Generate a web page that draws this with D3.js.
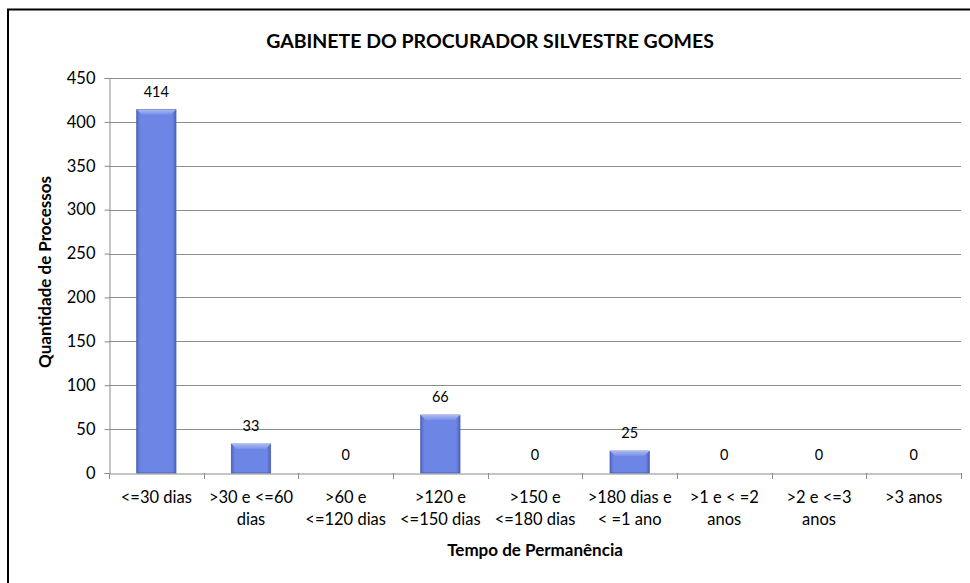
<!DOCTYPE html>
<html>
<head>
<meta charset="utf-8">
<script src="https://cdn.jsdelivr.net/npm/d3@7"></script>
<style>
  html, body { margin: 0; padding: 0; background: #fff; }
  svg { display: block; }
  text { font-family: Lato, "Open Sans", "Noto Sans", sans-serif; fill: #000; }
</style>
</head>
<body>
<svg id="chart" width="970" height="583"></svg>
<script>
const categories = [
  ["<=30 dias"],
  [">30 e <=60", "dias"],
  [">60 e", "<=120 dias"],
  [">120 e", "<=150 dias"],
  [">150 e", "<=180 dias"],
  [">180 dias e", "< =1 ano"],
  [">1 e < =2", "anos"],
  [">2 e <=3", "anos"],
  [">3 anos"]
];
const values = [414, 33, 0, 66, 0, 25, 0, 0, 0];
const yTicks = [0, 50, 100, 150, 200, 250, 300, 350, 400, 450];
const title = "GABINETE DO PROCURADOR SILVESTRE GOMES";
const xTitle = "Tempo de Permanência";
const yTitle = "Quantidade de Processos";

const svg = d3.select("#chart");
const m = { left: 109, right: 961, top: 78, bottom: 473 };

// outer border (top and left visible; right/bottom cut off)
svg.append("path").attr("d", "M8,600L8,9.5L980,9.5")
  .attr("fill", "none").attr("stroke", "#000").attr("stroke-width", 2);

const x = d3.scaleBand().domain(d3.range(categories.length))
  .range([m.left, m.right]).paddingInner(0.585).paddingOuter(0.2925);
const xb = d3.scaleBand().domain(d3.range(categories.length)).range([m.left, m.right]);
const y = d3.scaleLinear().domain([0, 450]).range([m.bottom, m.top]);

const defs = svg.append("defs");
const g1 = defs.append("linearGradient").attr("id", "barGrad").attr("x1", 0).attr("x2", 1).attr("y1", 0).attr("y2", 0);
g1.append("stop").attr("offset", "0%").attr("stop-color", "#5568c4");
g1.append("stop").attr("offset", "10%").attr("stop-color", "#6d86e6");
g1.append("stop").attr("offset", "90%").attr("stop-color", "#6d86e6");
g1.append("stop").attr("offset", "100%").attr("stop-color", "#5063bd");
const g2 = defs.append("linearGradient").attr("id", "topGrad").attr("x1", 0).attr("x2", 0).attr("y1", 0).attr("y2", 1);
g2.append("stop").attr("offset", "0%").attr("stop-color", "#a9b8f3");
g2.append("stop").attr("offset", "100%").attr("stop-color", "#7890ea");

// gridlines
svg.append("g").selectAll("line").data(yTicks.filter(d => d > 0)).join("line")
  .attr("x1", m.left).attr("x2", m.right)
  .attr("y1", d => Math.round(y(d)) + 0.5).attr("y2", d => Math.round(y(d)) + 0.5)
  .attr("stroke", "#8c8c8c").attr("stroke-width", 1);

// y axis
const yAxis = svg.append("g").attr("transform", `translate(${m.left + 0.5},0)`)
  .call(d3.axisLeft(y).tickValues(yTicks).tickSize(5).tickPadding(9));
yAxis.select(".domain").attr("stroke", "#8c8c8c");
yAxis.selectAll(".tick line").attr("stroke", "#8c8c8c");
yAxis.selectAll(".tick text").style("font-size", "16.5px").style("font-family", "Lato, sans-serif").attr("fill", "#000");

// x axis
const xAxis = svg.append("g").attr("transform", `translate(0,${Math.round(m.bottom) + 0.5})`)
  .call(d3.axisBottom(xb).tickSize(0).tickFormat(""));
xAxis.select(".domain").attr("stroke", "#8c8c8c");
xAxis.selectAll(".tick").remove();
svg.append("g").selectAll("line").data(d3.range(categories.length + 1)).join("line")
  .attr("x1", i => Math.round(m.left + i * xb.step()) + 0.5)
  .attr("x2", i => Math.round(m.left + i * xb.step()) + 0.5)
  .attr("y1", m.bottom).attr("y2", m.bottom + 6)
  .attr("stroke", "#8c8c8c");

// category labels
const cl = svg.append("g").selectAll("text").data(categories).join("text")
  .attr("text-anchor", "middle").style("font-size", "16.5px")
  .attr("x", (d, i) => xb(i) + xb.bandwidth() / 2).attr("y", 503);
cl.selectAll("tspan").data(d => d).join("tspan")
  .attr("x", function() { return d3.select(this.parentNode).attr("x"); })
  .attr("dy", (d, i) => i === 0 ? 0 : 22)
  .text(d => d);

// bars
const bars = svg.append("g").selectAll("g").data(values.map((v, i) => ({ v, i })).filter(d => d.v > 0)).join("g");
bars.append("rect")
  .attr("x", d => x(d.i)).attr("width", x.bandwidth())
  .attr("y", d => y(d.v)).attr("height", d => y(0) - y(d.v))
  .attr("fill", "url(#barGrad)").attr("stroke", "#4a5cad").attr("stroke-width", 0.8);
bars.append("path")
  .attr("d", d => {
    const x0 = x(d.i), x1 = x0 + x.bandwidth(), t = y(d.v), b = 5;
    return `M${x0},${t}L${x1},${t}L${x1 - b},${t + b}L${x0 + b},${t + b}Z`;
  })
  .attr("fill", "url(#topGrad)");

// value labels
svg.append("g").selectAll("text").data(values).join("text")
  .attr("text-anchor", "middle").style("font-size", "14.5px")
  .attr("x", (d, i) => xb(i) + xb.bandwidth() / 2)
  .attr("y", d => y(d) - 13)
  .text(d => d);

// title
svg.append("text").attr("x", 490).attr("y", 48).attr("text-anchor", "middle")
  .style("font-size", "19.5px").style("font-weight", "bold").text(title);

// x title
svg.append("text").attr("x", 535).attr("y", 556).attr("text-anchor", "middle")
  .style("font-size", "17px").style("font-weight", "bold").text(xTitle);

// y title
svg.append("text").attr("transform", "translate(51,272) rotate(-90)").attr("text-anchor", "middle")
  .style("font-size", "17px").style("font-weight", "bold").text(yTitle);
</script>
</body>
</html>
